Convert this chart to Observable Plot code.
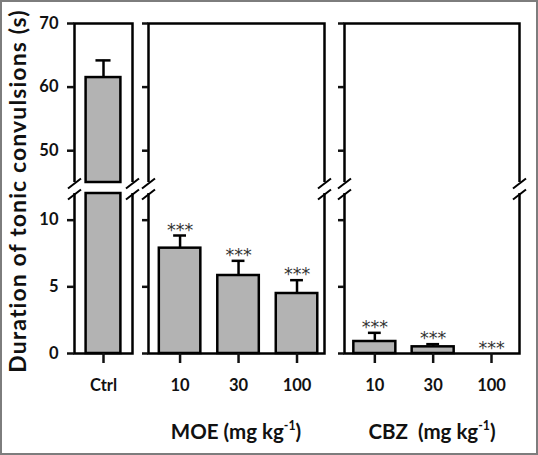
<!DOCTYPE html>
<html><head><meta charset="utf-8">
<script src="https://cdn.jsdelivr.net/npm/d3@7"></script>
<script src="https://cdn.jsdelivr.net/npm/@observablehq/plot@0.6"></script>
<style>
html,body{margin:0;padding:0;background:#fff;}
#wrap{position:relative;width:538px;height:455px;overflow:hidden;font-family:Lato,"Open Sans",sans-serif;color:#111;}
#wrap svg{position:absolute;left:0;top:0;}
.lbl{position:absolute;white-space:nowrap;font-weight:700;transform:translate(-50%,-50%);line-height:1;}
.sup{font-size:0.6em;vertical-align:0.7em;}
#border{position:absolute;left:0;top:0;right:0;bottom:0;border:2px solid #7d7d7d;pointer-events:none;}
</style></head><body><div id="wrap"></div>
<script>
// ---- data ----
const ctrlDoses = ["Ctrl"];
const moeDoses = ["10", "30", "100"];
const cbzDoses = ["10", "30", "100"];
const ctrlMeans = [61.5];
const ctrlSEM = [2.7];
const moeMeans = [7.9, 5.85, 4.5];
const moeSEM = [0.95, 1.1, 1.0];
const cbzMeans = [0.9, 0.5, 0];
const cbzSEM = [0.65, 0.2, 0];
const ctrlSig = [""];
const moeSig = ["***", "***", "***"];
const cbzSig = ["***", "***", "***"];
const yTicks = [0, 5, 10, 50, 60, 70];
const yBreak = [12, 45];   // top of lower segment, bottom of upper segment
const yMax = 70;
const yTitle = "Duration of tonic convulsions (s)";
const groupTitles = ["MOE (mg kg", "CBZ\u00a0\u00a0(mg kg"];

// ---- layout ----
const W = 538, H = 455;
const plotTop = 23, plotBottom = 353, gapTop = 182, gapBottom = 193;
const panels = [
  {labels: ctrlDoses, means: ctrlMeans, sem: ctrlSEM, sig: ctrlSig, left: 74, right: 132, domain: [-0.5, 0.5], barW: 0.6, cap: 0.13, tickSize: 7, showY: true},
  {labels: moeDoses, means: moeMeans, sem: moeSEM, sig: moeSig, left: 148, right: 324, domain: [-0.54, 2.47], barW: 0.71, cap: 0.11, tickSize: 6, showY: false},
  {labels: cbzDoses, means: cbzMeans, sem: cbzSEM, sig: cbzSig, left: 344, right: 519, domain: [-0.52, 2.48], barW: 0.72, cap: 0.11, tickSize: 6, showY: false}
];

const slash = {
  draw(ctx, size) {
    ctx.moveTo(-6.5, 5);
    ctx.lineTo(6.5, -5);
  }
};

const wrap = document.getElementById("wrap");
const SW = 2.5;
const FONT = "Lato, 'Open Sans', sans-serif";

for (const p of panels) {
  const rows = p.labels.map((label, i) => ({i, label, mean: p.means[i], sem: p.sem[i], sig: p.sig[i]}));
  const edges = [];
  for (const x of p.domain) for (const y of yBreak) edges.push({x, y});
  const svg = Plot.plot({
    width: W, height: H,
    marginLeft: p.left, marginRight: W - p.right, marginTop: plotTop, marginBottom: H - plotBottom,
    style: {background: "transparent", fontFamily: FONT, fontWeight: "bold", color: "#111"},
    x: {type: "linear", domain: p.domain},
    y: {type: "linear", domain: [0, yBreak[0], yBreak[1], yMax], range: [plotBottom, gapBottom, gapTop, plotTop]},
    marks: [
      Plot.frame({stroke: "#000", strokeWidth: SW}),
      Plot.rect([0], {y1: () => yBreak[0], y2: () => yBreak[1], fill: "white", insetLeft: -5, insetRight: -5}),
      Plot.rect(rows.filter(d => d.mean > 0), {x1: d => d.i - p.barW / 2, x2: d => d.i + p.barW / 2, y1: () => 0, y2: d => Math.min(d.mean, yBreak[0]), fill: "#b3b3b3", stroke: "#000", strokeWidth: SW}),
      Plot.rect(rows.filter(d => d.mean > yBreak[1]), {x1: d => d.i - p.barW / 2, x2: d => d.i + p.barW / 2, y1: () => yBreak[1], y2: d => d.mean, fill: "#b3b3b3", stroke: "#000", strokeWidth: SW}),
      Plot.ruleX(rows.filter(d => d.sem > 0), {x: "i", y1: "mean", y2: d => d.mean + d.sem, stroke: "#000", strokeWidth: SW}),
      Plot.ruleY(rows.filter(d => d.sem > 0), {y: d => d.mean + d.sem, x1: d => d.i - p.cap, x2: d => d.i + p.cap, stroke: "#000", strokeWidth: SW}),
      Plot.text(rows.filter(d => d.sig), {x: "i", y: d => d.mean + d.sem, text: "sig", lineAnchor: "bottom", dy: 0, fontSize: 17.5, fontWeight: "normal", fontFamily: "DejaVu Sans", fill: "#333"}),
      Plot.dot(edges, {x: "x", y: "y", symbol: slash, r: 6, stroke: "#000", strokeWidth: 2, fill: "none", dy: 1}),
      Plot.axisY({ticks: yTicks, tickSize: p.tickSize, tickPadding: 9, strokeWidth: SW, label: null, fontSize: 16.5, fontWeight: "bold", fontFamily: FONT, tickFormat: p.showY ? (d => String(d)) : (() => "")}),
      Plot.axisX({ticks: rows.map(d => d.i), tickSize: 10, tickPadding: 16, strokeWidth: SW, label: null, fontSize: 16.5, fontWeight: "bold", fontFamily: FONT, tickFormat: i => p.labels[i]})
    ]
  });
  wrap.appendChild(svg);
}

function addLabel(html, x, y, size, rotate, spacing) {
  const d = document.createElement("div");
  d.className = "lbl";
  d.style.left = x + "px";
  d.style.top = y + "px";
  d.style.fontSize = size + "px";
  if (spacing) d.style.letterSpacing = spacing + "px";
  if (rotate) d.style.transform = "translate(-50%,-50%) rotate(-90deg)";
  d.innerHTML = html;
  wrap.appendChild(d);
}
addLabel(yTitle, 17, 191, 23, true, 1.1);
addLabel(groupTitles[0] + '<span class="sup">-1</span>)', 236, 431, 20.5, false);
addLabel(groupTitles[1] + '<span class="sup">-1</span>)', 432, 431, 20.5, false);
const b = document.createElement("div"); b.id = "border"; wrap.appendChild(b);
</script></body></html>
